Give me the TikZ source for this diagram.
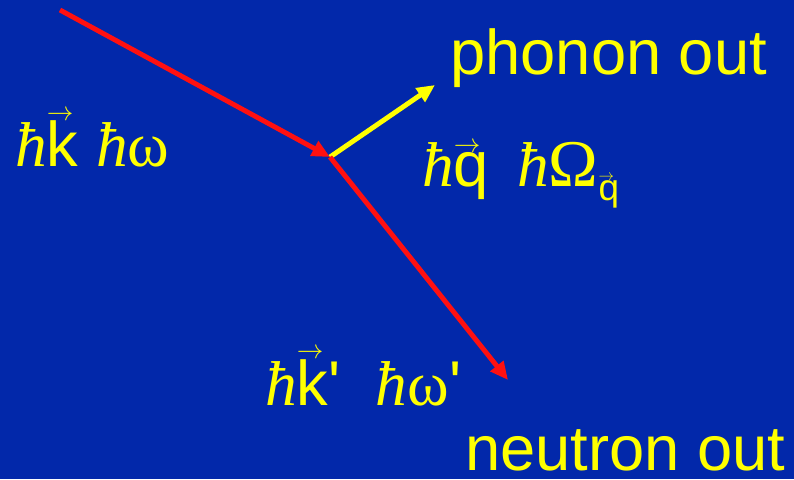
\documentclass[tikz,border=0pt]{standalone}
\usepackage{fontspec}
\setmainfont{Liberation Sans}
\newfontfamily\symfont{Liberation Serif}
\usetikzlibrary{arrows.meta}
\definecolor{slidebg}{RGB}{2,40,170}
\definecolor{beamred}{RGB}{255,16,16}
\definecolor{beamyel}{RGB}{255,255,0}
\newcommand{\hb}{{\symfont\itshape ħ}}
\newcommand{\vk}[1]{\setbox0\hbox{#1}\rlap{\raisebox{\dimexpr\ht0+0.01em}{\resizebox{0.42em}{!}{$\rightarrow$}}}\box0\relax}
\newcommand{\prm}{\textquotesingle}

\begin{document}
\begin{tikzpicture}[
    beam/.style={line width=2.8pt,-{Triangle[length=3.6mm,width=3.2mm]}},
    lbl/.style={text=beamyel,inner sep=0pt,anchor=base west,font=\fontsize{36}{40}\selectfont}
  ]
    \fill[slidebg] (0,0) rectangle (15.88,9.58);
    \useasboundingbox (0,0) rectangle (15.88,9.58);
    % scattering vertex and beam ends
    \coordinate (v) at (6.6,6.44);
    \coordinate (kin) at (1.2,9.38);
    \coordinate (qout) at (8.7,7.88);
    \coordinate (kout) at (10.16,1.98);
    \draw[beam,beamred] (kin) -- (v);
    \draw[beam,beamyel] (v) -- (qout);
    \draw[beam,beamred] (v) -- (kout);
    % labels
    \foreach \x/\y/\n/\t in {
      0.3/6.24/lkin/{\hb\vk{k}\ \hb{\symfont ω}},
      8.44/5.84/lq/{\hb\vk{q}\ \,\hb{\symfont\fontsize{38}{40}\selectfont Ω}\raisebox{-0.22em}{\fontsize{21}{21}\selectfont\vk{q}}},
      5.3/1.48/lkout/{\hb\vk{k}\prm\ \ \hb{\symfont ω}\prm},
      9.0/8.08/lph/{phonon out},
      9.3/0.18/lne/{neutron out}}
    {
      \node[lbl] (\n) at (\x,\y) {\t};
    }
  \end{tikzpicture}
\end{document}
